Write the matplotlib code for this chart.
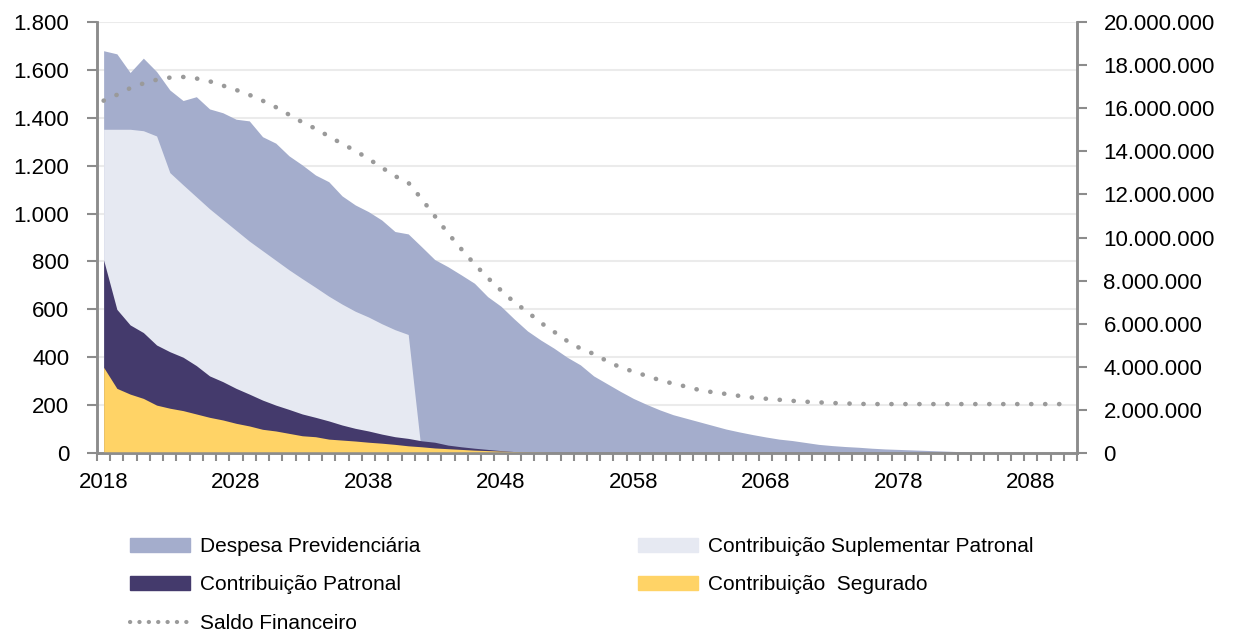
import numpy as np
import matplotlib.pyplot as plt
from matplotlib.patches import Patch
from matplotlib.lines import Line2D
from matplotlib.ticker import FuncFormatter, MultipleLocator

plt.rcParams['font.family'] = ['Liberation Sans', 'DejaVu Sans']

# anos da projecao
anos = list(range(2018, 2092))

# Despesa Previdenciaria (eixo esquerdo)
despesa = [1680, 1667, 1589, 1649, 1593, 1516, 1472, 1488, 1437, 1421,
           1394, 1387, 1321, 1294, 1241, 1203, 1161, 1133, 1074, 1036,
           1008, 973, 925, 915, 862, 808, 778, 744, 709, 653,
           613, 560, 510, 472, 438, 400, 368, 322, 290, 258,
           228, 203, 180, 160, 145, 130, 115, 100, 88, 77,
           67, 58, 52, 44, 36, 31, 27, 24, 20, 17,
           15, 13, 11, 9, 7, 5, 3, 2, 1, 0,
           0, 0, 0, 0]

# Contribuicao Suplementar Patronal
suplementar = [1352, 1352, 1352, 1346, 1324, 1171, 1120, 1070, 1020, 975,
               930, 885, 845, 805, 765, 728, 692, 655, 622, 592,
               568, 540, 515, 495] + [0] * 50

# Contribuicao Patronal
patronal = [806, 600, 535, 503, 451, 423, 400, 365, 322, 298,
            270, 246, 221, 200, 182, 163, 149, 134, 117, 103,
            92, 79, 68, 61, 51, 45, 33, 26, 20, 15,
            10, 6, 3, 1] + [0] * 40

# Contribuicao Segurado
segurado = [358, 270, 246, 228, 200, 187, 177, 163, 149, 138,
            124, 113, 99, 92, 82, 72, 68, 58, 54, 50,
            45, 41, 36, 30, 26, 21, 18, 15, 12, 10,
            8, 6, 4, 3, 2, 1] + [0] * 38

# Saldo Financeiro (eixo direito), em milhoes
saldo = [16.35, 16.62, 16.93, 17.15, 17.32, 17.42, 17.45, 17.38, 17.25, 17.05,
         16.85, 16.62, 16.35, 16.05, 15.70, 15.35, 15.05, 14.70, 14.35, 14.03,
         13.65, 13.25, 12.85, 12.55, 11.80, 11.00, 10.20, 9.47, 8.77, 8.13,
         7.55, 7.00, 6.55, 6.05, 5.63, 5.20, 4.85, 4.60, 4.27, 3.98,
         3.78, 3.58, 3.38, 3.22, 3.08, 2.92, 2.82, 2.74, 2.65, 2.57,
         2.52, 2.47, 2.42, 2.38, 2.35, 2.32, 2.30, 2.28, 2.27, 2.27,
         2.27, 2.27, 2.27, 2.27, 2.27, 2.27, 2.27, 2.27, 2.27, 2.27,
         2.27, 2.27, 2.27, 2.27]

rotulos_x = [2018, 2028, 2038, 2048, 2058, 2068, 2078, 2088]

c_desp = '#A4ADCC'
c_supl = '#E6E9F2'
c_patr = '#443A6C'
c_seg = '#FFD366'
c_saldo = '#9A9A9A'
c_eixo = '#8C8C8C'

saldo_abs = np.array(saldo) * 1e6
milhar = FuncFormatter(lambda v, p: f'{int(v):,}'.replace(',', '.'))

fig = plt.figure(figsize=(12.59, 6.31), dpi=100)
ax = fig.add_axes([97 / 1259, 1 - 453 / 631, (1077 - 97) / 1259, (453 - 22) / 631])

ax.fill_between(anos, 0, despesa, color=c_desp, lw=0, zorder=2)
ax.fill_between(anos, 0, suplementar, color=c_supl, lw=0, zorder=3)
ax.fill_between(anos, 0, patronal, color=c_patr, lw=0, zorder=4)
ax.fill_between(anos, 0, segurado, color=c_seg, lw=0, zorder=5)

ax.set_xlim(2017.5, 2091.5)
ax.set_ylim(0, 1800)
ax.yaxis.set_major_locator(MultipleLocator(200))
ax.yaxis.set_major_formatter(milhar)
ax.grid(axis='y', color='#EBEBEB', lw=1.5, zorder=0)
ax.set_axisbelow(True)

ax.set_xticks(rotulos_x)
ax.set_xticklabels([str(a) for a in rotulos_x])
ax.set_xticks(np.arange(2017.5, 2092, 1), minor=True)
ax.tick_params(axis='x', which='major', length=0, pad=14, labelsize=16)
ax.tick_params(axis='x', which='minor', length=6, width=1.5, color=c_eixo)
ax.tick_params(axis='y', length=7, width=1.5, color=c_eixo, pad=13, labelsize=16)

ax.spines['top'].set_visible(False)
for s in ['left', 'bottom', 'right']:
    ax.spines[s].set_color(c_eixo)
    ax.spines[s].set_linewidth(1.8)

ax2 = ax.twinx()
ax2.plot(anos, saldo_abs, color=c_saldo, lw=3.3, linestyle=(0, (0.05, 3.0)),
         dash_capstyle='round', zorder=6)
ax2.set_ylim(0, 20e6)
ax2.yaxis.set_major_locator(MultipleLocator(2e6))
ax2.yaxis.set_major_formatter(milhar)
ax2.tick_params(axis='y', length=7, width=1.5, color=c_eixo, pad=12, labelsize=16)
ax2.spines['top'].set_visible(False)
for s in ['left', 'bottom', 'right']:
    ax2.spines[s].set_color(c_eixo)
    ax2.spines[s].set_linewidth(1.8)

# legenda em duas colunas
h_desp = Patch(color=c_desp, label='Despesa Previdenciária')
h_supl = Patch(color=c_supl, label='Contribuição Suplementar Patronal')
h_patr = Patch(color=c_patr, label='Contribuição Patronal')
h_seg = Patch(color=c_seg, label='Contribuição  Segurado')
h_saldo = Line2D([], [], color=c_saldo, lw=3.0, linestyle=(0, (0.05, 2.2)),
                 dash_capstyle='round', label='Saldo Financeiro')

kw = dict(frameon=False, fontsize=15, handlelength=2.9, handleheight=0.67,
          handletextpad=0.48, labelspacing=0.93, borderpad=0, borderaxespad=0)
leg1 = fig.legend(handles=[h_desp, h_patr, h_saldo], loc='upper left',
                  bbox_to_anchor=(130 / 1259, 1 - 537 / 631), **kw)
leg2 = fig.legend(handles=[h_supl, h_seg], loc='upper left',
                  bbox_to_anchor=(638 / 1259, 1 - 537 / 631), **kw)

fig.savefig('out.png', dpi=100)
